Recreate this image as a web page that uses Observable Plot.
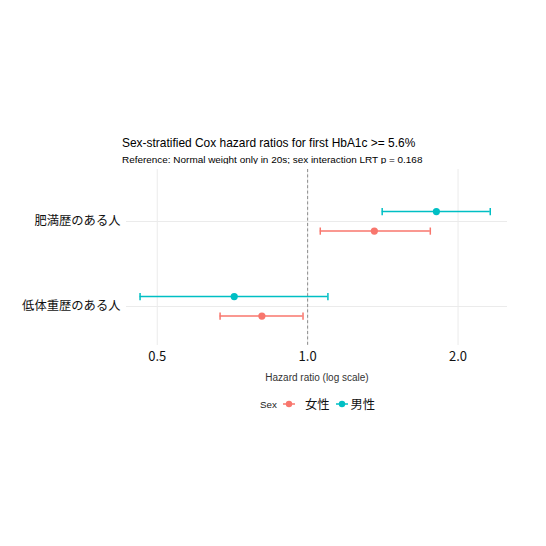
<!DOCTYPE html>
<html>
<head>
<meta charset="utf-8">
<script src="https://cdn.jsdelivr.net/npm/d3@7"></script>
<script src="https://cdn.jsdelivr.net/npm/@observablehq/plot@0.6"></script>
<style>
  html, body { margin: 0; padding: 0; background: white; }
  #page { position: relative; width: 546px; height: 546px; background: white; overflow: hidden; }
  .ttl { position: absolute; left: 122px; font-family: "Liberation Sans", Arial, sans-serif; color: #000; white-space: nowrap; line-height: 1; }
  #title { top: 137.5px; font-size: 11.95px; }
  #subtitle { top: 155px; font-size: 9.95px; }
  #chart { position: absolute; left: 0; top: 164px; }
  #legend { position: absolute; left: 260px; top: 396px; height: 16px; display: flex; align-items: center; white-space: nowrap; }
  #legend .lt { font-family: "Liberation Sans", Arial, sans-serif; font-size: 9.8px; color: #222; margin-right: 6px; }
  #legend .lab { font-family: "Noto Sans CJK JP", sans-serif; font-size: 12.3px; color: #111; }
  #legend svg { display: block; }
</style>
</head>
<body>
<div id="page">
  <div id="title" class="ttl"></div>
  <div id="subtitle" class="ttl"></div>
  <div id="chart"></div>
  <div id="legend"></div>
</div>
<script>
// ---- data ----
const titleText = "Sex-stratified Cox hazard ratios for first HbA1c >= 5.6%";
const subtitleText = "Reference: Normal weight only in 20s; sex interaction LRT p = 0.168";
const xLabel = "Hazard ratio (log scale)";
const legendTitle = "Sex";

const categories = ["肥満歴のある人", "低体重歴のある人"];
const sexes = ["女性", "男性"];
const sexColors = ["#F8766D", "#00BFC4"];

const femaleHR = [1.36, 0.81];
const femaleLo = [1.06, 0.668];
const femaleHi = [1.76, 0.979];

const maleHR = [1.81, 0.713];
const maleLo = [1.41, 0.462];
const maleHi = [2.32, 1.098];

const xTicks = [0.5, 1, 2];
const refValue = 1;

// ---- build table ----
const rows = categories.flatMap((c, i) => [
  {cat: c, sex: sexes[0], hr: femaleHR[i], lo: femaleLo[i], hi: femaleHi[i]},
  {cat: c, sex: sexes[1], hr: maleHR[i], lo: maleLo[i], hi: maleHi[i]}
]);

const dodge = {"女性": 9.6, "男性": -9.9};
const cjk = "'Noto Sans CJK JP', 'Noto Sans', sans-serif";
const latin = "'Liberation Sans', Arial, sans-serif";

// vertical cap symbol for error-bar ends
const capSymbol = {
  draw(ctx, size) {
    const h = Math.sqrt(size / Math.PI);
    ctx.moveTo(0, -h);
    ctx.lineTo(0, h);
  }
};

const sexMarks = sexes.flatMap(s => {
  const d = rows.filter(r => r.sex === s);
  const dy = dodge[s];
  return [
    Plot.ruleY(d, {x1: "lo", x2: "hi", y: "cat", stroke: "sex", strokeWidth: 1.5, dy}),
    Plot.dot(d, {x: "lo", y: "cat", stroke: "sex", fill: "none", symbol: capSymbol, r: 3.6, strokeWidth: 1.5, dy}),
    Plot.dot(d, {x: "hi", y: "cat", stroke: "sex", fill: "none", symbol: capSymbol, r: 3.6, strokeWidth: 1.5, dy}),
    Plot.dot(d, {x: "hr", y: "cat", fill: "sex", r: 3.6, dy})
  ];
});

const chart = Plot.plot({
  width: 546,
  height: 221,
  marginTop: 5,
  marginBottom: 40,
  marginLeft: 126,
  marginRight: 39,
  style: {background: "white", fontFamily: cjk, color: "#222"},
  x: {type: "log", domain: [0.434, 2.512]},
  y: {type: "point", domain: categories, padding: 0, insetTop: 51.5, insetBottom: 39.3},
  color: {domain: sexes, range: sexColors},
  marks: [
    Plot.ruleY(categories, {stroke: "#ebebeb", strokeWidth: 1}),
    Plot.ruleX(xTicks, {stroke: "#ebebeb", strokeWidth: 1}),
    Plot.ruleX([refValue], {stroke: "#8c8c8c", strokeWidth: 1, strokeDasharray: "3,2.4"}),
    ...sexMarks,
    Plot.axisX({ticks: xTicks, tickFormat: d3.format(".1f"), tickSize: 0, tickPadding: 6, fontSize: 13, label: null, fontFamily: cjk, fill: "#111"}),
    Plot.axisY({tickSize: 0, tickPadding: 6, fontSize: 12.3, label: null, fontFamily: cjk, fill: "#111"}),
    Plot.text([xLabel], {frameAnchor: "bottom", dy: 32, fontSize: 10, fontFamily: latin, fill: "#333", lineAnchor: "middle"})
  ]
});
document.getElementById("chart").appendChild(chart);

document.getElementById("title").textContent = titleText;
document.getElementById("subtitle").textContent = subtitleText;

// ---- legend ----
const lg = document.getElementById("legend");
const lt = document.createElement("span");
lt.className = "lt";
lt.textContent = legendTitle;
lg.appendChild(lt);
const glyphGapAfter = [10, 3];
const labelGapAfter = [6, 0];
sexes.forEach((s, i) => {
  const ns = "http://www.w3.org/2000/svg";
  const sv = document.createElementNS(ns, "svg");
  sv.setAttribute("width", 12);
  sv.setAttribute("height", 16);
  sv.style.marginRight = glyphGapAfter[i] + "px";
  const ln = document.createElementNS(ns, "line");
  ln.setAttribute("x1", 0); ln.setAttribute("x2", 12);
  ln.setAttribute("y1", 8); ln.setAttribute("y2", 8);
  ln.setAttribute("stroke", sexColors[i]); ln.setAttribute("stroke-width", 1.5);
  const c = document.createElementNS(ns, "circle");
  c.setAttribute("cx", 6); c.setAttribute("cy", 8); c.setAttribute("r", 3.2);
  c.setAttribute("fill", sexColors[i]);
  sv.appendChild(ln); sv.appendChild(c);
  lg.appendChild(sv);
  const lab = document.createElement("span");
  lab.className = "lab";
  lab.style.marginRight = labelGapAfter[i] + "px";
  lab.textContent = s;
  lg.appendChild(lab);
});
</script>
</body>
</html>
